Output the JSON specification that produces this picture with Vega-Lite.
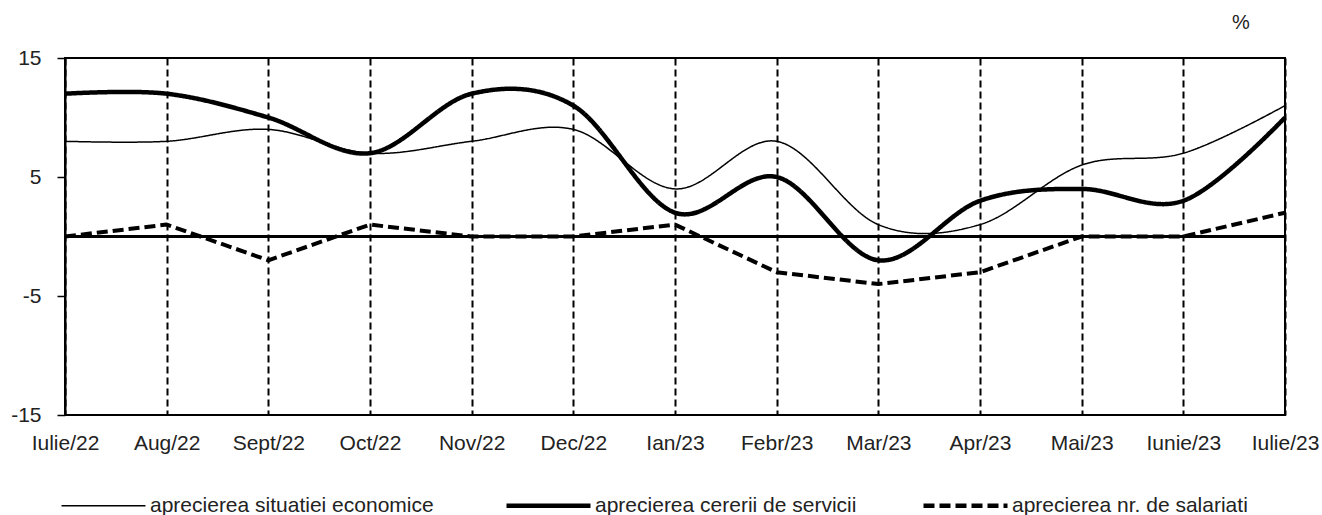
{
  "$schema": "https://vega.github.io/schema/vega-lite/v6.json",
  "autosize": "none",
  "width": 1220,
  "height": 357,
  "padding": {"left": 65, "top": 58, "right": 37, "bottom": 100},
  "background": "white",
  "config": {
    "font": "Liberation Sans",
    "view": {"stroke": "black", "strokeWidth": 2},
    "axis": {"labelFont": "Liberation Sans", "labelFontSize": 21, "labelColor": "#222"},
    "legend": {"labelFont": "Liberation Sans", "labelFontSize": 21, "labelColor": "#222", "padding": 0}
  },
  "title": {
    "text": "%",
    "anchor": "end",
    "orient": "top",
    "dx": -69,
    "offset": 14,
    "fontSize": 20,
    "fontWeight": "normal",
    "font": "Liberation Sans",
    "color": "#222"
  },
  "data": {
    "values": [
      {"month": "Iulie/22", "series": "aprecierea  situatiei economice", "value": 8},
      {"month": "Aug/22", "series": "aprecierea  situatiei economice", "value": 8},
      {"month": "Sept/22", "series": "aprecierea  situatiei economice", "value": 9},
      {"month": "Oct/22", "series": "aprecierea  situatiei economice", "value": 7},
      {"month": "Nov/22", "series": "aprecierea  situatiei economice", "value": 8},
      {"month": "Dec/22", "series": "aprecierea  situatiei economice", "value": 9},
      {"month": "Ian/23", "series": "aprecierea  situatiei economice", "value": 4},
      {"month": "Febr/23", "series": "aprecierea  situatiei economice", "value": 8},
      {"month": "Mar/23", "series": "aprecierea  situatiei economice", "value": 1},
      {"month": "Apr/23", "series": "aprecierea  situatiei economice", "value": 1},
      {"month": "Mai/23", "series": "aprecierea  situatiei economice", "value": 6},
      {"month": "Iunie/23", "series": "aprecierea  situatiei economice", "value": 7},
      {"month": "Iulie/23", "series": "aprecierea  situatiei economice", "value": 11},
      {"month": "Iulie/22", "series": "aprecierea cererii de servicii", "value": 12},
      {"month": "Aug/22", "series": "aprecierea cererii de servicii", "value": 12},
      {"month": "Sept/22", "series": "aprecierea cererii de servicii", "value": 10},
      {"month": "Oct/22", "series": "aprecierea cererii de servicii", "value": 7},
      {"month": "Nov/22", "series": "aprecierea cererii de servicii", "value": 12},
      {"month": "Dec/22", "series": "aprecierea cererii de servicii", "value": 11},
      {"month": "Ian/23", "series": "aprecierea cererii de servicii", "value": 2},
      {"month": "Febr/23", "series": "aprecierea cererii de servicii", "value": 5},
      {"month": "Mar/23", "series": "aprecierea cererii de servicii", "value": -2},
      {"month": "Apr/23", "series": "aprecierea cererii de servicii", "value": 3},
      {"month": "Mai/23", "series": "aprecierea cererii de servicii", "value": 4},
      {"month": "Iunie/23", "series": "aprecierea cererii de servicii", "value": 3},
      {"month": "Iulie/23", "series": "aprecierea cererii de servicii", "value": 10},
      {"month": "Iulie/22", "series": "aprecierea  nr. de salariati", "value": 0},
      {"month": "Aug/22", "series": "aprecierea  nr. de salariati", "value": 1},
      {"month": "Sept/22", "series": "aprecierea  nr. de salariati", "value": -2},
      {"month": "Oct/22", "series": "aprecierea  nr. de salariati", "value": 1},
      {"month": "Nov/22", "series": "aprecierea  nr. de salariati", "value": 0},
      {"month": "Dec/22", "series": "aprecierea  nr. de salariati", "value": 0},
      {"month": "Ian/23", "series": "aprecierea  nr. de salariati", "value": 1},
      {"month": "Febr/23", "series": "aprecierea  nr. de salariati", "value": -3},
      {"month": "Mar/23", "series": "aprecierea  nr. de salariati", "value": -4},
      {"month": "Apr/23", "series": "aprecierea  nr. de salariati", "value": -3},
      {"month": "Mai/23", "series": "aprecierea  nr. de salariati", "value": 0},
      {"month": "Iunie/23", "series": "aprecierea  nr. de salariati", "value": 0},
      {"month": "Iulie/23", "series": "aprecierea  nr. de salariati", "value": 2}
    ]
  },
  "encoding": {
    "x": {
      "field": "month",
      "type": "ordinal",
      "sort": ["Iulie/22", "Aug/22", "Sept/22", "Oct/22", "Nov/22", "Dec/22", "Ian/23", "Febr/23", "Mar/23", "Apr/23", "Mai/23", "Iunie/23", "Iulie/23"],
      "scale": {"type": "point", "padding": 0},
      "axis": {
        "title": null,
        "labelAngle": 0,
        "ticks": false,
        "domain": false,
        "grid": true,
        "gridColor": "black",
        "gridWidth": 2,
        "gridDash": [7, 4],
        "gridOpacity": 1,
        "labelPadding": 17,
        "labelOverlap": false,
        "labelBound": false
      }
    },
    "y": {
      "field": "value",
      "type": "quantitative",
      "scale": {"domain": [-15, 15], "nice": false, "zero": false},
      "axis": {
        "title": null,
        "values": [-15, -5, 5, 15],
        "labelExpr": "'' + datum.value",
        "grid": false,
        "domainColor": "black",
        "domainWidth": 2,
        "tickColor": "black",
        "tickWidth": 1.5,
        "tickSize": 8,
        "labelPadding": 16
      }
    },
    "strokeDash": {
      "field": "series",
      "type": "nominal",
      "scale": {
        "domain": ["aprecierea  situatiei economice", "aprecierea cererii de servicii", "aprecierea  nr. de salariati"],
        "range": [[1, 0], [1, 0], [11, 5]]
      },
      "legend": {
        "title": null,
        "orient": "none",
        "legendX": 28,
        "legendY": 437,
        "direction": "horizontal",
        "columns": 3,
        "columnPadding": 57,
        "symbolType": "stroke",
        "symbolSize": 7056,
        "symbolStrokeColor": "black",
        "symbolStrokeWidth": 4.5,
        "labelOffset": 36,
        "labelLimit": 500,
        "encode": {
          "symbols": {
            "update": {
              "strokeWidth": {"signal": "datum.value === 'aprecierea  situatiei economice' ? 1.5 : 4.5"}
            }
          }
        }
      }
    },
    "strokeWidth": {
      "condition": [
        {"test": "datum.series === 'aprecierea  situatiei economice'", "value": 1.5},
        {"test": "datum.series === 'aprecierea  nr. de salariati'", "value": 4}
      ],
      "value": 4.5
    }
  },
  "layer": [
    {
      "mark": {"type": "rule", "color": "black", "strokeWidth": 1.5},
      "encoding": {"y": {"datum": 0, "type": "quantitative"}, "x": null, "strokeDash": null, "strokeWidth": null}
    },
    {
      "transform": [{"filter": "datum.series !== 'aprecierea  nr. de salariati'"}],
      "mark": {"type": "line", "color": "black", "interpolate": "cardinal", "strokeCap": "butt"}
    },
    {
      "transform": [{"filter": "datum.series === 'aprecierea  nr. de salariati'"}],
      "mark": {"type": "line", "color": "black", "interpolate": "linear", "strokeCap": "butt", "strokeJoin": "round"}
    }
  ]
}
